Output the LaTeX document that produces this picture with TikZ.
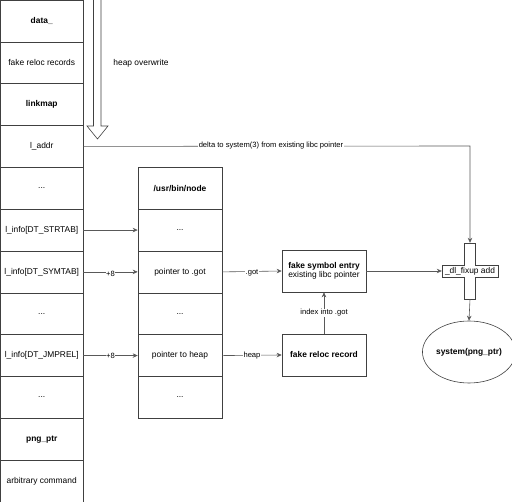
\documentclass[tikz,border=0pt]{standalone}
\usepackage{fontspec}
\setmainfont{Liberation Sans}
\usetikzlibrary{arrows.meta,shapes.geometric}
\newcommand\mydots{...}
\tikzset{
  cell/.style={draw=black!75, line width=0.6pt, minimum height=41.83pt, inner sep=0pt, font=\fontsize{8.4}{10}\selectfont},
  lcell/.style={cell, minimum width=82.5pt},
  mcell/.style={cell, minimum width=84pt},
  box/.style={cell, minimum width=84pt, minimum height=42pt, align=center},
  conn/.style={draw=black!65, line width=0.6pt, -{Stealth[length=5pt,width=4.5pt]}},
  lab/.style={fill=white, inner sep=0.5pt, font=\fontsize{7.6}{9}\selectfont},
  txt/.style={font=\fontsize{8.4}{10}\selectfont}
}
\begin{document}
\begin{tikzpicture}[x=1pt,y=-1pt]
\useasboundingbox (0,0) rectangle (512,502);
\fill[white] (0,0) rectangle (512,502);
% left column
\foreach \n/\t [count=\i] in {L1/\textbf{data\_},L2/fake reloc records,L3/\textbf{linkmap},L4/l\_addr,L5/\mydots,L6/l\_info[DT\_STRTAB],L7/l\_info[DT\_SYMTAB],L8/\mydots,L9/l\_info[DT\_JMPREL],L10/\mydots,L11/\textbf{png\_ptr},L12/arbitrary command}
  \node[lcell] (\n) at (41.75, {20.92+41.83*(\i-1)}) {\t};
% middle column
\foreach \n/\t [count=\i] in {M1/\textbf{/usr/bin/node},M2/\mydots,M3/pointer to .got,M4/\mydots,M5/pointer to heap,M6/\mydots}
  \node[mcell] (\n) at (180, {188.25+41.83*(\i-1)}) {\t};
% boxes
\node[box] (sym) at (324,271) {\textbf{fake symbol entry}\\[-1pt]existing libc pointer};
\node[box] (rel) at (324,355) {\textbf{fake reloc record}};
% cross
\draw[draw=black!75, line width=0.6pt, fill=white]
  (464.5,243) -- (475.5,243) -- (475.5,265) -- (498,265) -- (498,277) -- (475.5,277)
  -- (475.5,299) -- (464.5,299) -- (464.5,277) -- (442,277) -- (442,265) -- (464.5,265) -- cycle;
\node[txt, inner sep=0pt, minimum width=56pt, minimum height=12pt] (fix) at (470,271) {\_dl\_fixup add};
\node[inner sep=0pt, minimum width=11pt, minimum height=56pt] (fixv) at (470,271) {};
% ellipse
\node[ellipse, draw=black!75, line width=0.6pt, minimum width=82pt, minimum height=62pt, inner sep=0pt, txt] (sys) at (469,352) {\textbf{system(png\_ptr)}};
% hollow arrow
\draw[draw=black!75, line width=0.6pt] (93.5,0) -- (93.5,126) -- (87,126) -- (97.5,139) -- (108,126) -- (101,126) -- (101,0);
\node[txt] (heapow) at (141,63) {heap overwrite};
% connectors
\coordinate (corner) at (470,146);
\draw[conn] (L4.east) -- (corner) -- (fixv.north);
\node[lab] at (271,146) {delta to system(3) from existing libc pointer};
\draw[conn] (L6.east) -- (L6.east -| M2.west);
\draw[conn] (L7.east) -- node[lab, yshift=-2pt] {+8} (L7.east -| M3.west);
\draw[conn] (L9.east) -- node[lab] {+8} (L9.east -| M5.west);
\draw[conn] (M3.east) -- node[lab, yshift=-1pt] {.got} (sym.west);
\draw[conn] (M5.east) -- node[lab] {heap} (rel.west);
\draw[conn] (rel.north) -- node[lab] {index into .got} (sym.south);
\draw[conn] (sym.east) -- (fix.west);
\draw[conn] (fixv.south) -- (sys.north);
\end{tikzpicture}
\end{document}
